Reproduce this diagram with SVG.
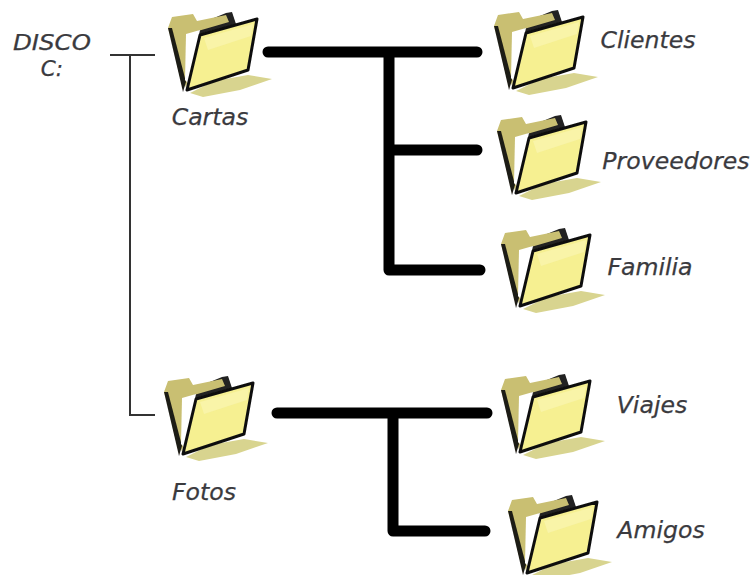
<svg xmlns="http://www.w3.org/2000/svg" width="753" height="575" viewBox="0 0 753 575">
<style>
text{font-family:"DejaVu Sans",Verdana,sans-serif;font-style:italic;font-size:23.6px;fill:#3a3a3e;stroke:#3a3a3e;stroke-width:.25;text-anchor:middle}
.disco{font-size:21.5px}
.thin{fill:none;stroke:#333;stroke-width:2}
.thick{fill:none;stroke:#000;stroke-width:11;stroke-linecap:round;stroke-linejoin:round}
</style>
<defs>
<filter id="soft" x="-10%" y="-10%" width="120%" height="120%"><feGaussianBlur stdDeviation="0.7"/></filter>
<g id="folder" filter="url(#soft)">
<path d="M190 93L214 81L248 75L272 79L240 90L203 97Z" fill="#d8d48f"/>
<path d="M192 27L226 13L232 12L236 24L200 36Z" fill="#222"/>
<path d="M168 28L172 17L193 14L197 21L226 15L229 22L198 31L186 88Z" fill="#c9bf72"/>
<path d="M168 28L172 28L186 82L183 92Z" fill="#1f1d14"/>
<path d="M186 34L200 30L189 84L185 80Z" fill="#fff"/>
<path d="M200 35L257 19L248 70L187 90Z" fill="#f6f091" stroke="#111" stroke-width="3" stroke-linejoin="round"/>
<path d="M204 38L253 24L251 36L208 50Z" fill="#fbf8c0" opacity=".5"/>
</g>
</defs>
<g id="connectors">
<path class="thin" d="M110 55H155M130 55V415H155"/>
<path class="thick" d="M268 52H477M389 52V270H480M389 150H477"/>
<path class="thick" d="M277 413H487M393 413V531H485"/>
</g>
<g id="disco"><text class="disco" x="52" y="50" textLength="78" lengthAdjust="spacingAndGlyphs">DISCO</text><text class="disco" x="52" y="76">C:</text></g>
<g id="cartas"><use href="#folder"/><text x="210" y="125">Cartas</text></g>
<g id="clientes"><use href="#folder" x="326" y="-2"/><text x="648" y="48">Clientes</text></g>
<g id="proveedores"><use href="#folder" x="329" y="103"/><text x="676" y="169">Proveedores</text></g>
<g id="familia"><use href="#folder" x="333" y="216"/><text x="650" y="275">Familia</text></g>
<g id="fotos"><use href="#folder" x="-4" y="364"/><text x="204" y="500">Fotos</text></g>
<g id="viajes"><use href="#folder" x="333" y="362"/><text x="652" y="413">Viajes</text></g>
<g id="amigos"><use href="#folder" x="340" y="483"/><text x="661" y="538">Amigos</text></g>
</svg>
